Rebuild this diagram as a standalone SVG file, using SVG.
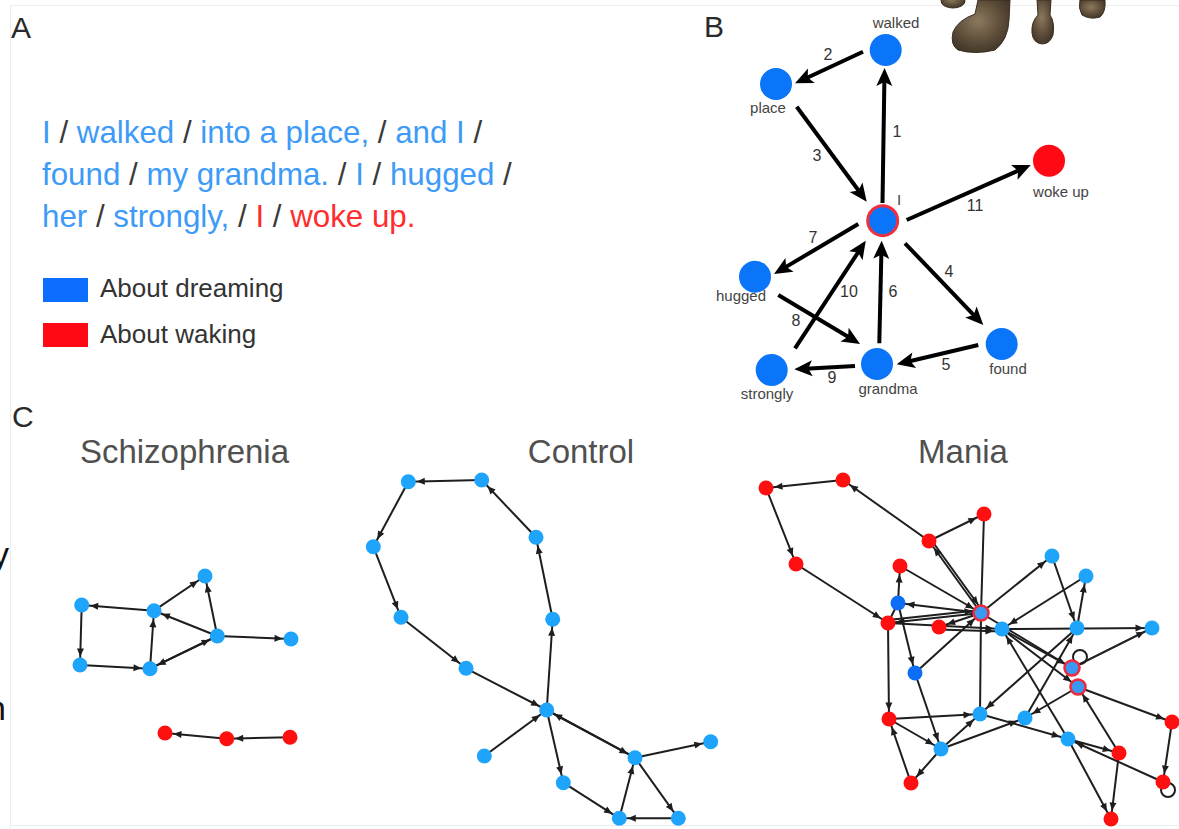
<svg xmlns="http://www.w3.org/2000/svg" width="1179" height="829" viewBox="0 0 1179 829">
  <style>
    text { font-family: "Liberation Sans", Arial, sans-serif; }
    .panel { font-size: 30px; fill: #2a2a2a; }
    .sent { font-size: 31.3px; }
    .bt { fill: #3d9bf7; }
    .sl { fill: #3a3a3a; }
    .rt { fill: #ff2d2d; }
    .leg { font-size: 26px; fill: #333; }
    .title { font-size: 33px; fill: #505050; text-anchor: middle; }
    .bl { font-size: 15px; fill: #444; text-anchor: middle; }
    .bn { font-size: 16px; fill: #333; text-anchor: middle; }
    .be { stroke: #000; stroke-width: 4; fill: none; marker-end: url(#bigArrow); }
    .ce { stroke: #1e1e1e; stroke-width: 2; marker-end: url(#smallArrow); }
    .cp { stroke: #1e1e1e; stroke-width: 2; }
    .loop { fill: none; stroke: #1e1e1e; stroke-width: 2; }
    .nb { fill: #1ea4fa; }
    .nr { fill: #ff1010; }
    .nd { fill: #0b6ef5; }
    .ring { fill: #3b98f2; stroke: #ee2a3a; stroke-width: 2.5; }
    .bblue { fill: #0b75fa; }
    .bred { fill: #ff0a14; }
    .boot { fill: url(#leather); stroke: #3a2f22; stroke-width: 1; }
  </style>
  <defs>
    <marker id="bigArrow" markerUnits="userSpaceOnUse" markerWidth="18" markerHeight="16" refX="7" refY="8" orient="auto" overflow="visible">
      <path d="M0,0 L18,8 L0,16 L4,8 z" fill="#000"/>
    </marker>
    <marker id="smallArrow" markerUnits="userSpaceOnUse" markerWidth="9" markerHeight="7" refX="16.5" refY="3.5" orient="auto" overflow="visible">
      <path d="M0,0 L8,3.5 L0,7 z" fill="#1e1e1e"/>
    </marker>
    <radialGradient id="leather" cx="0.45" cy="0.4" r="0.7">
      <stop offset="0" stop-color="#8c7a5e"/>
      <stop offset="0.55" stop-color="#5e4e3a"/>
      <stop offset="1" stop-color="#3a2f23"/>
    </radialGradient>
  </defs>

  <rect width="1179" height="829" fill="#fff"/>
  <path d="M10.5,829 V5.5 H1179 M10.5,825.5 H1179" fill="none" stroke="#eeeeee" stroke-width="1"/>

  <!-- cut-off text at the left edge -->
  <text x="-8" y="566" font-size="34" fill="#111">y</text>
  <text x="-13" y="720" font-size="34" fill="#111">n</text>

  <!-- boots at the top right -->
  <g id="boots">
    <ellipse class="boot" cx="953" cy="1" rx="12" ry="7"/>
    <path class="boot" d="M978,0 L1010,0 L1009,20 Q1008,40 995,50 Q975,55 958,50 Q950,45 953,32 Q958,20 975,14 Z"/>
    <path class="boot" d="M1037,0 L1051,0 L1050,15 Q1055,22 1053,35 Q1050,44 1042,44 Q1033,43 1032,33 Q1031,22 1038,15 Z"/>
    <path class="boot" d="M1080,0 L1105,0 Q1106,12 1100,17 Q1090,20 1082,15 Q1078,8 1080,0 Z"/>
  </g>

  <!-- Panel A -->
  <g id="panelA">
    <text class="panel" x="11" y="38">A</text>
    <text class="sent" x="42" y="143"><tspan class="bt">I</tspan><tspan class="sl"> / </tspan><tspan class="bt">walked</tspan><tspan class="sl"> / </tspan><tspan class="bt">into a place,</tspan><tspan class="sl"> / </tspan><tspan class="bt">and I</tspan><tspan class="sl"> /</tspan></text>
    <text class="sent" x="42" y="185"><tspan class="bt">found</tspan><tspan class="sl"> / </tspan><tspan class="bt">my grandma.</tspan><tspan class="sl"> / </tspan><tspan class="bt">I</tspan><tspan class="sl"> / </tspan><tspan class="bt">hugged</tspan><tspan class="sl"> /</tspan></text>
    <text class="sent" x="42" y="227"><tspan class="bt">her</tspan><tspan class="sl"> / </tspan><tspan class="bt">strongly,</tspan><tspan class="sl"> / </tspan><tspan class="rt">I</tspan><tspan class="sl"> / </tspan><tspan class="rt">woke up.</tspan></text>
    <g id="legend">
      <rect x="43" y="278" width="45" height="24" fill="#0b6eff"/>
      <text class="leg" x="100" y="297">About dreaming</text>
      <rect x="43" y="323" width="45" height="24" fill="#ff0a14"/>
      <text class="leg" x="100" y="343">About waking</text>
    </g>
  </g>

  <!-- Panel B -->
  <g id="panelB">
    <text class="panel" x="704" y="37">B</text>
    <g id="b-connectors">
      <line class="be" x1="882.5" y1="203" x2="884.4" y2="79"/>
      <line class="be" x1="863" y1="51.7" x2="805" y2="78.7"/>
      <line class="be" x1="796.7" y1="106.7" x2="860.2" y2="192.8"/>
      <line class="be" x1="905" y1="243.3" x2="975.7" y2="317.1"/>
      <line class="be" x1="978.3" y1="345" x2="907.4" y2="361.8"/>
      <line class="be" x1="879.3" y1="343.3" x2="881.4" y2="251.7"/>
      <line class="be" x1="858.3" y1="224" x2="783.5" y2="268.4"/>
      <line class="be" x1="778.3" y1="295" x2="850.6" y2="338.3"/>
      <line class="be" x1="855" y1="366" x2="805.3" y2="368.7"/>
      <line class="be" x1="795" y1="348.3" x2="859.7" y2="249.9"/>
      <line class="be" x1="906.7" y1="220" x2="1020.7" y2="169.5"/>
    </g>
    <g id="b-edge-labels">
      <text class="bn" x="897" y="137">1</text>
      <text class="bn" x="828" y="60">2</text>
      <text class="bn" x="817" y="161">3</text>
      <text class="bn" x="949" y="277">4</text>
      <text class="bn" x="946" y="370">5</text>
      <text class="bn" x="893" y="297">6</text>
      <text class="bn" x="813" y="243">7</text>
      <text class="bn" x="796" y="326">8</text>
      <text class="bn" x="832" y="383">9</text>
      <text class="bn" x="849" y="297">10</text>
      <text class="bn" x="975" y="211">11</text>
    </g>
    <g id="b-walked"><circle class="bblue" cx="885.7" cy="50" r="16"/><text class="bl" x="896" y="28">walked</text></g>
    <g id="b-place"><circle class="bblue" cx="776" cy="84" r="16"/><text class="bl" x="768" y="113">place</text></g>
    <g id="b-i"><circle cx="882.7" cy="220.7" r="15" fill="#0b75fa" stroke="#f0303c" stroke-width="3"/><text class="bl" x="899" y="205">I</text></g>
    <g id="b-wokeup"><circle class="bred" cx="1049" cy="160.7" r="16"/><text class="bl" x="1061" y="197">woke up</text></g>
    <g id="b-hugged"><circle class="bblue" cx="755" cy="276.7" r="16"/><text class="bl" x="741" y="301">hugged</text></g>
    <g id="b-found"><circle class="bblue" cx="1001.7" cy="344" r="16"/><text class="bl" x="1008" y="374">found</text></g>
    <g id="b-grandma"><circle class="bblue" cx="877" cy="364" r="16"/><text class="bl" x="888" y="394">grandma</text></g>
    <g id="b-strongly"><circle class="bblue" cx="771.7" cy="370" r="16"/><text class="bl" x="767" y="399">strongly</text></g>
  </g>

  <!-- Panel C -->
  <text class="panel" x="12" y="427">C</text>

  <!-- Schizophrenia -->
  <g id="schizophrenia">
    <text class="title" x="184.5" y="463">Schizophrenia</text>
    <g id="s-connectors">
      <line class="ce" x1="154" y1="610.7" x2="81.7" y2="605"/>
      <line class="ce" x1="81.7" y1="605" x2="80" y2="665"/>
      <line class="ce" x1="80" y1="665" x2="150" y2="668.7"/>
      <line class="ce" x1="150" y1="668.7" x2="154" y2="610.7"/>
      <line class="ce" x1="217.3" y1="636" x2="154" y2="610.7"/>
      <line class="ce" x1="154" y1="610.7" x2="205" y2="576"/>
      <line class="ce" x1="217.3" y1="636" x2="205" y2="576"/>
      <line class="ce" x1="150" y1="668.7" x2="217.3" y2="636"/>
      <line class="ce" x1="217.3" y1="636" x2="150" y2="668.7"/>
      <line class="ce" x1="217.3" y1="636" x2="291" y2="639"/>
      <line class="ce" x1="226.7" y1="738.7" x2="165" y2="733"/>
      <line class="ce" x1="290" y1="737.3" x2="226.7" y2="738.7"/>
    </g>
    <g id="s-nodes">
      <circle id="s1" class="nb" cx="81.7" cy="605" r="7.5"/>
      <circle id="s2" class="nb" cx="154" cy="610.7" r="7.5"/>
      <circle id="s3" class="nb" cx="205" cy="576" r="7.5"/>
      <circle id="s4" class="nb" cx="217.3" cy="636" r="7.5"/>
      <circle id="s5" class="nb" cx="291" cy="639" r="7.5"/>
      <circle id="s6" class="nb" cx="80" cy="665" r="7.5"/>
      <circle id="s7" class="nb" cx="150" cy="668.7" r="7.5"/>
      <circle id="s8" class="nr" cx="165" cy="733" r="7.5"/>
      <circle id="s9" class="nr" cx="226.7" cy="738.7" r="7.5"/>
      <circle id="s10" class="nr" cx="290" cy="737.3" r="7.5"/>
    </g>
  </g>

  <!-- Control -->
  <g id="control">
    <text class="title" x="581" y="463">Control</text>
    <g id="c-connectors">
      <line class="ce" x1="481.7" y1="480" x2="408.3" y2="481.7"/>
      <line class="ce" x1="408.3" y1="481.7" x2="373.3" y2="546.7"/>
      <line class="ce" x1="373.3" y1="546.7" x2="401" y2="617.3"/>
      <line class="ce" x1="401" y1="617.3" x2="466" y2="668.3"/>
      <line class="ce" x1="466" y1="668.3" x2="546.7" y2="710"/>
      <line class="ce" x1="546.7" y1="710" x2="552.7" y2="619.3"/>
      <line class="ce" x1="552.7" y1="619.3" x2="536" y2="537.3"/>
      <line class="ce" x1="536" y1="537.3" x2="481.7" y2="480"/>
      <line class="ce" x1="484.3" y1="756" x2="546.7" y2="710"/>
      <line class="ce" x1="546.7" y1="710" x2="563.3" y2="782.7"/>
      <line class="ce" x1="563.3" y1="782.7" x2="619.3" y2="818.3"/>
      <line class="ce" x1="619.3" y1="818.3" x2="635" y2="757.7"/>
      <line class="ce" x1="635" y1="757.7" x2="678.3" y2="818.3"/>
      <line class="ce" x1="678.3" y1="818.3" x2="619.3" y2="818.3"/>
      <line class="ce" x1="635" y1="757.7" x2="710.7" y2="741.7"/>
      <line class="ce" x1="546.7" y1="710" x2="635" y2="757.7"/>
      <line class="ce" x1="635" y1="757.7" x2="546.7" y2="710"/>
    </g>
    <g id="c-nodes">
      <circle class="nb" cx="408.3" cy="481.7" r="7.5"/>
      <circle class="nb" cx="481.7" cy="480" r="7.5"/>
      <circle class="nb" cx="373.3" cy="546.7" r="7.5"/>
      <circle class="nb" cx="536" cy="537.3" r="7.5"/>
      <circle class="nb" cx="401" cy="617.3" r="7.5"/>
      <circle class="nb" cx="552.7" cy="619.3" r="7.5"/>
      <circle class="nb" cx="466" cy="668.3" r="7.5"/>
      <circle class="nb" cx="546.7" cy="710" r="7.5"/>
      <circle class="nb" cx="484.3" cy="756" r="7.5"/>
      <circle class="nb" cx="635" cy="757.7" r="7.5"/>
      <circle class="nb" cx="710.7" cy="741.7" r="7.5"/>
      <circle class="nb" cx="563.3" cy="782.7" r="7.5"/>
      <circle class="nb" cx="619.3" cy="818.3" r="7.5"/>
      <circle class="nb" cx="678.3" cy="818.3" r="7.5"/>
    </g>
  </g>

  <!-- Mania -->
  <g id="mania">
    <text class="title" x="963" y="463">Mania</text>
    <g id="m-connectors">
      <line class="ce" x1="843" y1="480" x2="766" y2="488"/>
      <line class="ce" x1="766" y1="488" x2="796" y2="564"/>
      <line class="ce" x1="796" y1="564" x2="888" y2="623"/>
      <line class="ce" x1="929" y1="541" x2="843" y2="480"/>
      <line class="ce" x1="929" y1="541" x2="984" y2="514"/>
      <line class="cp" x1="984" y1="514" x2="981" y2="613"/>
      <line class="ce" x1="981" y1="613" x2="929" y2="541"/>
      <line class="ce" x1="931" y1="539.5" x2="983" y2="611.5"/>
      <line class="ce" x1="900" y1="566" x2="981" y2="613"/>
      <line class="ce" x1="981" y1="613" x2="898" y2="603"/>
      <line class="ce" x1="898" y1="603" x2="900" y2="566"/>
      <line class="cp" x1="888" y1="623" x2="898" y2="603"/>
      <line class="ce" x1="981" y1="613" x2="888" y2="623"/>
      <line class="ce" x1="888" y1="620" x2="981" y2="610"/>
      <line class="ce" x1="888" y1="623" x2="1002" y2="629"/>
      <line class="ce" x1="981" y1="613" x2="939" y2="627"/>
      <line class="ce" x1="939" y1="629.5" x2="1002" y2="631.5"/>
      <line class="ce" x1="898" y1="603" x2="915" y2="673"/>
      <line class="ce" x1="915" y1="673" x2="941" y2="749"/>
      <line class="ce" x1="915" y1="673" x2="981" y2="613"/>
      <line class="ce" x1="888" y1="623" x2="889" y2="719"/>
      <line class="ce" x1="889" y1="719" x2="980" y2="714"/>
      <line class="ce" x1="889" y1="719" x2="941" y2="749"/>
      <line class="ce" x1="911" y1="783" x2="889" y2="719"/>
      <line class="ce" x1="941" y1="749" x2="911" y2="783"/>
      <line class="ce" x1="941" y1="749" x2="980" y2="714"/>
      <line class="ce" x1="941" y1="749" x2="1025" y2="718"/>
      <line class="ce" x1="980" y1="714" x2="1068" y2="739"/>
      <line class="cp" x1="981" y1="613" x2="980" y2="714"/>
      <line class="ce" x1="1002" y1="629" x2="1152" y2="628"/>
      <line class="ce" x1="1052" y1="556" x2="1077" y2="628"/>
      <line class="ce" x1="1077" y1="628" x2="1086" y2="576"/>
      <line class="ce" x1="1086" y1="576" x2="1002" y2="629"/>
      <line class="ce" x1="981" y1="613" x2="1052" y2="556"/>
      <line class="ce" x1="1072" y1="668" x2="1152" y2="628"/>
      <line class="ce" x1="1025" y1="718" x2="1077" y2="628"/>
      <line class="ce" x1="1077" y1="628" x2="980" y2="714"/>
      <line class="ce" x1="1078" y1="687" x2="1172" y2="722"/>
      <line class="ce" x1="1172" y1="722" x2="1163" y2="782"/>
      <line class="ce" x1="1119" y1="753" x2="1078" y2="687"/>
      <line class="ce" x1="1163" y1="782" x2="1068" y2="739"/>
      <line class="ce" x1="1068" y1="739" x2="1119" y2="753"/>
      <line class="ce" x1="1068" y1="739" x2="1111" y2="819"/>
      <line class="ce" x1="1119" y1="753" x2="1111" y2="819"/>
      <line class="ce" x1="1068" y1="739" x2="1002" y2="629"/>
      <line class="ce" x1="1002" y1="629" x2="1072" y2="668"/>
      <line class="ce" x1="1002" y1="629" x2="1078" y2="687"/>
      <line class="ce" x1="981" y1="613" x2="1072" y2="668"/>
      <line class="ce" x1="1078" y1="687" x2="1025" y2="718"/>
      <circle class="loop" cx="1080" cy="657" r="7"/>
      <circle class="loop" cx="1168" cy="790" r="7"/>
    </g>
    <g id="m-nodes">
      <circle class="nr" cx="766" cy="488" r="7.5"/>
      <circle class="nr" cx="843" cy="480" r="7.5"/>
      <circle class="nr" cx="984" cy="514" r="7.5"/>
      <circle class="nr" cx="929" cy="541" r="7.5"/>
      <circle class="nr" cx="796" cy="564" r="7.5"/>
      <circle class="nr" cx="900" cy="566" r="7.5"/>
      <circle class="nr" cx="888" cy="623" r="7.5"/>
      <circle class="nr" cx="939" cy="627" r="7.5"/>
      <circle class="nr" cx="889" cy="719" r="7.5"/>
      <circle class="nr" cx="911" cy="783" r="7.5"/>
      <circle class="nr" cx="1172" cy="722" r="7.5"/>
      <circle class="nr" cx="1119" cy="753" r="7.5"/>
      <circle class="nr" cx="1163" cy="782" r="7.5"/>
      <circle class="nr" cx="1111" cy="819" r="7.5"/>
      <circle class="nd" cx="898" cy="603" r="7.5"/>
      <circle class="nd" cx="915" cy="673" r="7.5"/>
      <circle class="nb" cx="1052" cy="556" r="7.5"/>
      <circle class="nb" cx="1086" cy="576" r="7.5"/>
      <circle class="nb" cx="1002" cy="629" r="7.5"/>
      <circle class="nb" cx="1077" cy="628" r="7.5"/>
      <circle class="nb" cx="1152" cy="628" r="7.5"/>
      <circle class="nb" cx="980" cy="714" r="7.5"/>
      <circle class="nb" cx="1025" cy="718" r="7.5"/>
      <circle class="nb" cx="1068" cy="739" r="7.5"/>
      <circle class="nb" cx="941" cy="749" r="7.5"/>
      <circle class="ring" cx="981" cy="613" r="7.5"/>
      <circle class="ring" cx="1072" cy="668" r="7.5"/>
      <circle class="ring" cx="1078" cy="687" r="7.5"/>
    </g>
  </g>
</svg>
